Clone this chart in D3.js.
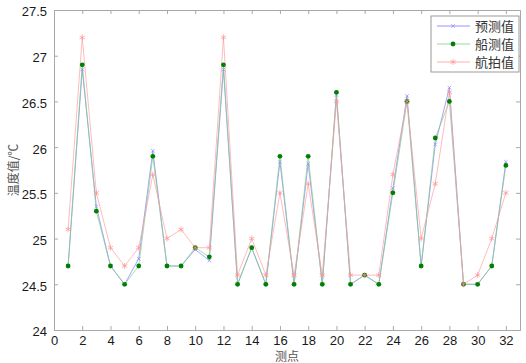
<!DOCTYPE html>
<html>
<head>
<meta charset="utf-8">
<script src="https://cdn.jsdelivr.net/npm/d3@7"></script>
<style>
  body { margin: 0; background: #fff; }
  svg { display: block; }
</style>
</head>
<body>
<div id="chart"></div>
<script>
// measuring points 1..32
const points = d3.range(1, 33);
const predicted = [24.7, 26.85, 25.35, 24.7, 24.5, 24.78, 25.96, 24.7, 24.7, 24.88,
  24.76, 26.85, 24.5, 24.9, 24.5, 25.84, 24.5, 25.82, 24.5, 26.57,
  24.5, 24.6, 24.5, 25.55, 26.56, 24.7, 26.03, 26.65, 24.5, 24.5, 24.7, 25.84];
const shipMeasured = [24.7, 26.9, 25.3, 24.7, 24.5, 24.7, 25.9, 24.7, 24.7, 24.9,
  24.8, 26.9, 24.5, 24.9, 24.5, 25.9, 24.5, 25.9, 24.5, 26.6,
  24.5, 24.6, 24.5, 25.5, 26.5, 24.7, 26.1, 26.5, 24.5, 24.5, 24.7, 25.8];
const aerial = [25.1, 27.2, 25.5, 24.9, 24.7, 24.9, 25.7, 25.0, 25.1, 24.9,
  24.9, 27.2, 24.6, 25.0, 24.6, 25.5, 24.6, 25.6, 24.6, 26.5,
  24.6, 24.6, 24.6, 25.7, 26.5, 25.0, 25.6, 26.6, 24.5, 24.6, 25.0, 25.5];
const xTicks = d3.range(0, 33, 2);
const yTicks = [24, 24.5, 25, 25.5, 26, 26.5, 27, 27.5];
const seriesNames = ['预测值', '船测值', '航拍值'];

const width = 526, height = 363;
const margin = {top: 10, right: 6, bottom: 33, left: 54};
const innerW = width - margin.left - margin.right;
const innerH = height - margin.top - margin.bottom;

const series = [
  {name: seriesNames[0], values: predicted, line: '#7a7aff', mark: 'x', markColor: '#8a8aff'},
  {name: seriesNames[1], values: shipMeasured, line: '#80cc80', mark: 'dot', markColor: '#008000'},
  {name: seriesNames[2], values: aerial, line: '#ff9c9c', mark: 'star', markColor: '#ff9090'}
];

const x = d3.scaleLinear().domain([0, 33]).range([0, innerW]);
const y = d3.scaleLinear().domain([24, 27.5]).range([innerH, 0]);

const svg = d3.select('#chart').append('svg')
  .attr('width', width).attr('height', height);
const g = svg.append('g')
  .attr('transform', 'translate(' + margin.left + ',' + margin.top + ')');

const frameColor = '#a8a8a8';
const tickFont = '"Liberation Sans", Arial, sans-serif';
const cjkFont = '"Noto Sans CJK SC", sans-serif';

// axes with inward ticks
const axisB = g.append('g').attr('transform', 'translate(0,' + innerH + ')')
  .call(d3.axisBottom(x).tickValues(xTicks).tickSize(-4).tickPadding(6));
const axisT = g.append('g')
  .call(d3.axisTop(x).tickValues(xTicks).tickSize(-4).tickFormat(''));
const axisL = g.append('g')
  .call(d3.axisLeft(y).tickValues(yTicks).tickSize(-4).tickPadding(7).tickFormat(d3.format('')));
const axisR = g.append('g').attr('transform', 'translate(' + innerW + ',0)')
  .call(d3.axisRight(y).tickValues(yTicks).tickSize(-4).tickFormat(''));

[axisB, axisT, axisL, axisR].forEach(a => {
  a.select('.domain').attr('stroke', frameColor);
  a.selectAll('.tick line').attr('stroke', frameColor);
  a.selectAll('.tick text')
    .attr('fill', '#1a1a1a')
    .style('font-family', tickFont)
    .style('font-size', '13px');
});
axisL.selectAll('.tick text').attr('dy', '0.45em');

// lines
const line = d3.line()
  .x((d, i) => x(points[i]))
  .y(d => y(d));

series.forEach(s => {
  g.append('path')
    .datum(s.values)
    .attr('fill', 'none')
    .attr('stroke', s.line)
    .attr('stroke-width', 0.8)
    .attr('stroke-opacity', 0.85)
    .attr('d', line);
});

function drawMarker(sel, s) {
  if (s.mark === 'dot') {
    sel.append('circle').attr('r', 2.4).attr('fill', s.markColor);
  } else if (s.mark === 'x') {
    sel.append('path')
      .attr('d', d3.symbol(d3.symbolX).size(10)())
      .attr('fill', 'none').attr('stroke', s.markColor).attr('stroke-width', 0.7);
  } else {
    sel.append('path')
      .attr('d', d3.symbol(d3.symbolAsterisk).size(26)())
      .attr('fill', 'none').attr('stroke', s.markColor).attr('stroke-width', 0.7);
  }
}

series.forEach(s => {
  g.append('g').selectAll('g')
    .data(s.values).enter()
    .append('g')
    .attr('transform', (d, i) => 'translate(' + x(points[i]) + ',' + y(d) + ')')
    .each(function() { drawMarker(d3.select(this), s); });
});

// axis titles
svg.append('text')
  .attr('x', margin.left + innerW / 2).attr('y', 361)
  .attr('text-anchor', 'middle')
  .attr('fill', '#555')
  .style('font-family', cjkFont).style('font-size', '12px')
  .text('测点');
svg.append('text')
  .attr('transform', 'translate(18,' + (margin.top + innerH / 2) + ') rotate(-90)')
  .attr('text-anchor', 'middle')
  .attr('fill', '#555')
  .style('font-family', cjkFont).style('font-size', '12px')
  .text('温度值/℃');

// legend
const legend = svg.append('g').attr('transform', 'translate(431,16)');
legend.append('rect')
  .attr('width', 88).attr('height', 56)
  .attr('fill', '#fff').attr('stroke', '#9a9a9a');
series.forEach((s, i) => {
  const row = legend.append('g').attr('transform', 'translate(0,' + (10 + i * 18) + ')');
  row.append('line').attr('x1', 6).attr('x2', 39)
    .attr('stroke', s.line).attr('stroke-width', 0.8);
  drawMarker(row.append('g').attr('transform', 'translate(22,0)'), s);
  row.append('text').attr('x', 44).attr('dy', '0.36em')
    .attr('fill', '#333')
    .style('font-family', cjkFont).style('font-size', '13px')
    .text(s.name);
});
</script>
</body>
</html>
